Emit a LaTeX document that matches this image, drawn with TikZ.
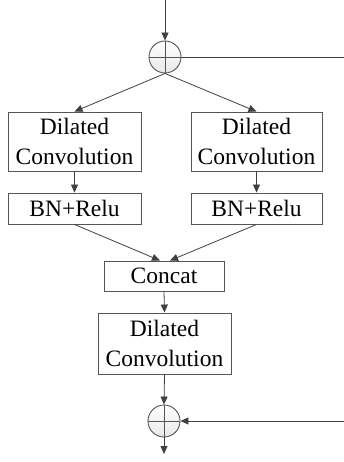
\documentclass[tikz,border=0pt]{standalone}
\usepackage{fontspec}
\setmainfont{Liberation Serif}
\usetikzlibrary{arrows.meta}
\definecolor{linec}{HTML}{404040}
\definecolor{boxc}{HTML}{555555}
\begin{document}
\begin{tikzpicture}[x=1pt,y=-1pt,
  blk/.style={draw=boxc,line width=0.9pt,align=center,inner sep=0pt,
    font=\fontsize{23.5}{30}\selectfont},
  summ/.style={circle,draw=boxc,line width=0.9pt,minimum size=32pt,inner sep=0pt,
    top color=white,bottom color=gray!18},
  arr/.style={draw=linec,line width=0.8pt,-{Triangle[length=8pt,width=7pt]}},
  ln/.style={draw=linec,line width=0.8pt}]
\useasboundingbox (0,0) rectangle (344,462);
\node[summ] (c1) at (165,57) {};
\draw[boxc,line width=0.8pt] (c1.north) -- (c1.south) (c1.west) -- (c1.east);
\node[blk,minimum width=133pt,minimum height=59pt] (L1) at (74.5,141.5) {Dilated\\Convolution};
\node[blk,minimum width=131pt,minimum height=59pt] (R1) at (256.5,141.5) {Dilated\\Convolution};
\node[blk,minimum width=133pt,minimum height=31pt] (L2) at (74.5,208.5) {BN+Relu};
\node[blk,minimum width=131pt,minimum height=31pt] (R2) at (256.5,208.5) {BN+Relu};
\node[blk,minimum width=120pt,minimum height=30pt] (cc) at (164,276) {Concat};
\node[blk,minimum width=133pt,minimum height=61pt] (D3) at (164.5,343.5) {Dilated\\Convolution};
\node[summ] (c2) at (164,421) {};
\draw[boxc,line width=0.8pt] (c2.north) -- (c2.south) (c2.west) -- (c2.east);
\coordinate (in) at (165,0);
\coordinate (skip) at (344,57);
\coordinate (skipin) at (344,421);
\coordinate (out) at (164,454);
\draw[arr] (in) -- (c1.north);
\draw[ln] (c1.east) -- (skip);
\draw[arr] (c1.south) -- (L1.north);
\draw[arr] (c1.south) -- (R1.north);
\draw[arr] (L1.south) -- (L2.north);
\draw[arr] (R1.south) -- (R2.north);
\draw[arr] (L2.south) -- ([xshift=-4pt]cc.north);
\draw[arr] (R2.south) -- ([xshift=6pt]cc.north);
\draw[arr] (cc.south) -- (D3.north);
\draw[arr] (D3.south) -- (c2.north);
\draw[arr] (skipin) -- (c2.east);
\draw[arr] (c2.south) -- (out);
\end{tikzpicture}
\end{document}
